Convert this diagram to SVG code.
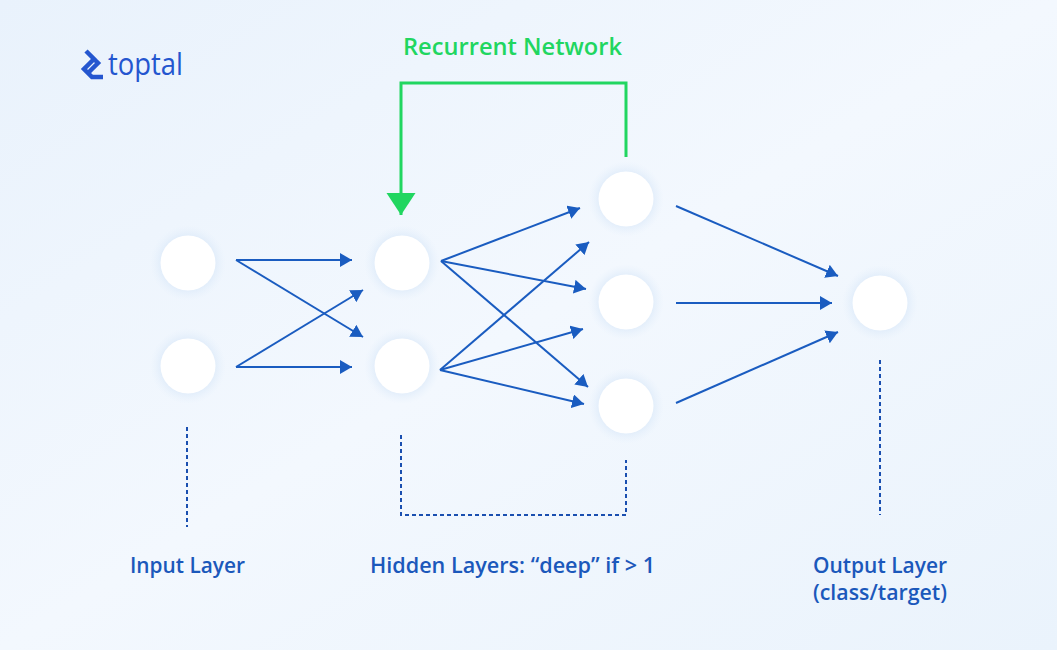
<svg xmlns="http://www.w3.org/2000/svg" width="1057" height="650" viewBox="0 0 1057 650">
  <defs>
    <linearGradient id="bg" x1="0" y1="0" x2="1" y2="1">
      <stop offset="0" stop-color="#e9f2fc"/>
      <stop offset="0.5" stop-color="#f3f8fe"/>
      <stop offset="1" stop-color="#eaf3fc"/>
    </linearGradient>
    <radialGradient id="glow" cx="0.5" cy="0.5" r="0.5">
      <stop offset="0.6" stop-color="#d6e6f8" stop-opacity="0.9"/>
      <stop offset="1" stop-color="#e6f0fb" stop-opacity="0"/>
    </radialGradient>
    <marker id="ab" markerUnits="userSpaceOnUse" markerWidth="13" markerHeight="14" refX="12" refY="7" orient="auto">
      <path d="M0,0 L12,7 L0,14 z" fill="#1a5cc0"/>
    </marker>
    <marker id="ag" markerUnits="userSpaceOnUse" markerWidth="23" markerHeight="30" refX="22" refY="14.5" orient="auto">
      <path d="M0,0 L22,14.5 L0,29 z" fill="#21d660"/>
    </marker>
  </defs>
  <style>
    .node circle.g { fill: url(#glow); }
    .node circle.c { fill: #ffffff; }
    .conn line { stroke: #1a5cc0; stroke-width: 2; marker-end: url(#ab); }
    .dash { fill: none; stroke: #1a4fb0; stroke-width: 2; stroke-dasharray: 4 3; }
    .lbl { font-family: "Open Sans", "Liberation Sans", sans-serif; font-weight: 600; font-size: 21px; fill: #1b58bb; text-anchor: middle; }
  </style>
  <rect width="1057" height="650" fill="url(#bg)"/>

  <g id="logo">
    <path d="M86,51 L94,59 L84,69 L92,77 L103,77 M94,59 L98,63 L88,73" fill="none" stroke="#2456cf" stroke-width="4.5" stroke-linejoin="miter"/>
    <text x="108" y="75" font-family="Open Sans, Liberation Sans, sans-serif" font-weight="500" font-size="31" fill="#2456cf" textLength="75" lengthAdjust="spacingAndGlyphs">toptal</text>
  </g>

  <g id="connectors">
    <g class="conn">
      <line x1="236" y1="260" x2="352" y2="260"/>
      <line x1="236" y1="260" x2="363" y2="337"/>
      <line x1="236" y1="367" x2="352" y2="367"/>
      <line x1="236" y1="367" x2="363" y2="290"/>
      <line x1="441" y1="261" x2="580" y2="208"/>
      <line x1="441" y1="261" x2="586" y2="289"/>
      <line x1="441" y1="261" x2="588" y2="387"/>
      <line x1="440" y1="370" x2="589" y2="242"/>
      <line x1="440" y1="370" x2="583" y2="329"/>
      <line x1="440" y1="370" x2="584" y2="404"/>
      <line x1="676" y1="206" x2="838" y2="276"/>
      <line x1="676" y1="303" x2="832" y2="303"/>
      <line x1="676" y1="403" x2="838" y2="332"/>
    </g>
    <path id="recurrent" d="M626,157 L626,83 L401,83 L401,215" fill="none" stroke="#21d660" stroke-width="3" marker-end="url(#ag)"/>
    <path class="dash" d="M187,427 L187,527"/>
    <path class="dash" d="M401,435 L401,515 L626,515 L626,460"/>
    <path class="dash" d="M880,360 L880,515"/>
  </g>

  <g id="n-in1" class="node"><circle class="g" cx="188" cy="263" r="38"/><circle class="c" cx="188" cy="263" r="27.5"/></g>
  <g id="n-in2" class="node"><circle class="g" cx="188" cy="366" r="38"/><circle class="c" cx="188" cy="366" r="27.5"/></g>
  <g id="n-h1a" class="node"><circle class="g" cx="402" cy="263" r="38"/><circle class="c" cx="402" cy="263" r="27.5"/></g>
  <g id="n-h1b" class="node"><circle class="g" cx="402" cy="366" r="38"/><circle class="c" cx="402" cy="366" r="27.5"/></g>
  <g id="n-h2a" class="node"><circle class="g" cx="626" cy="199" r="38"/><circle class="c" cx="626" cy="199" r="27.5"/></g>
  <g id="n-h2b" class="node"><circle class="g" cx="626" cy="302" r="38"/><circle class="c" cx="626" cy="302" r="27.5"/></g>
  <g id="n-h2c" class="node"><circle class="g" cx="626" cy="406" r="38"/><circle class="c" cx="626" cy="406" r="27.5"/></g>
  <g id="n-out" class="node"><circle class="g" cx="880" cy="303" r="38"/><circle class="c" cx="880" cy="303" r="27.5"/></g>

  <text x="512.5" y="55" font-family="Open Sans, Liberation Sans, sans-serif" font-weight="600" font-size="23" fill="#21d660" text-anchor="middle" textLength="219" lengthAdjust="spacingAndGlyphs">Recurrent Network</text>
  <text class="lbl" x="187.5" y="573" textLength="115" lengthAdjust="spacingAndGlyphs">Input Layer</text>
  <text class="lbl" x="512.5" y="573" textLength="285" lengthAdjust="spacingAndGlyphs">Hidden Layers: “deep” if &gt; 1</text>
  <text class="lbl" x="880" y="573" textLength="134" lengthAdjust="spacingAndGlyphs">Output Layer</text>
  <text class="lbl" x="880" y="600" textLength="134" lengthAdjust="spacingAndGlyphs">(class/target)</text>
</svg>
